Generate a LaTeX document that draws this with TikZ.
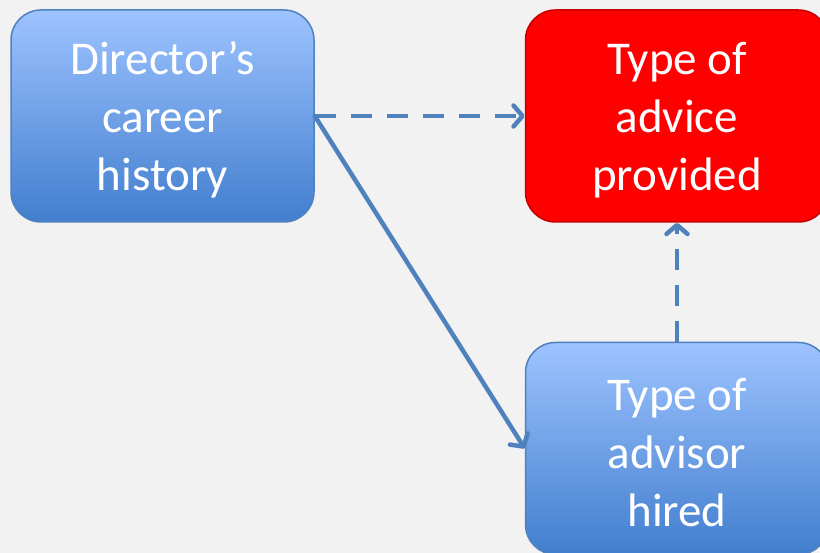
\documentclass[tikz,border=0pt]{standalone}
\usepackage{fontspec}
\setmainfont{Carlito}
\usetikzlibrary{arrows.meta}
\definecolor{bg}{RGB}{242,242,242}
\definecolor{lineblue}{RGB}{79,129,189}
\definecolor{boxtop}{RGB}{157,195,255}
\definecolor{boxbot}{RGB}{66,126,206}
\definecolor{redfill}{RGB}{255,0,0}
\definecolor{redline}{RGB}{200,0,0}
\tikzset{
  bluebox/.style={rectangle, rounded corners=30pt, minimum width=303pt, minimum height=212pt,
    top color=boxtop, bottom color=boxbot, draw=lineblue, line width=1.5pt, inner sep=0pt},
  redbox/.style={bluebox, top color=redfill, bottom color=redfill, fill=redfill, draw=redline},
  boxtext/.style={text=white, align=center, font=\fontsize{47}{58}\selectfont, yshift=-4pt},
  conn/.style={draw=lineblue, line width=4.5pt, line cap=round,
    -{Straight Barb[length=9pt,width=21pt,round]}},
  dashconn/.style={conn, line cap=butt, dash pattern=on 21pt off 15pt}
}
\begin{document}
\begin{tikzpicture}[x=1pt,y=-1pt]
\clip (0,0) rectangle (820,553);
\fill[bg] (0,0) rectangle (820,553);
\node[bluebox, label={[boxtext]center:Director’s\\career\\history}] (dir) at (162.5,116) {};
\node[redbox, label={[boxtext]center:Type of\\advice\\provided}] (adv) at (677,116) {};
\node[bluebox, label={[boxtext]center:Type of\\advisor\\hired}] (hir) at (677,448.5) {};
\draw[dashconn] (dir.east) -- (adv.west);
\draw[conn] (dir.east) -- (hir.west);
\draw[dashconn] (hir.north) -- (adv.south);
\end{tikzpicture}
\end{document}
